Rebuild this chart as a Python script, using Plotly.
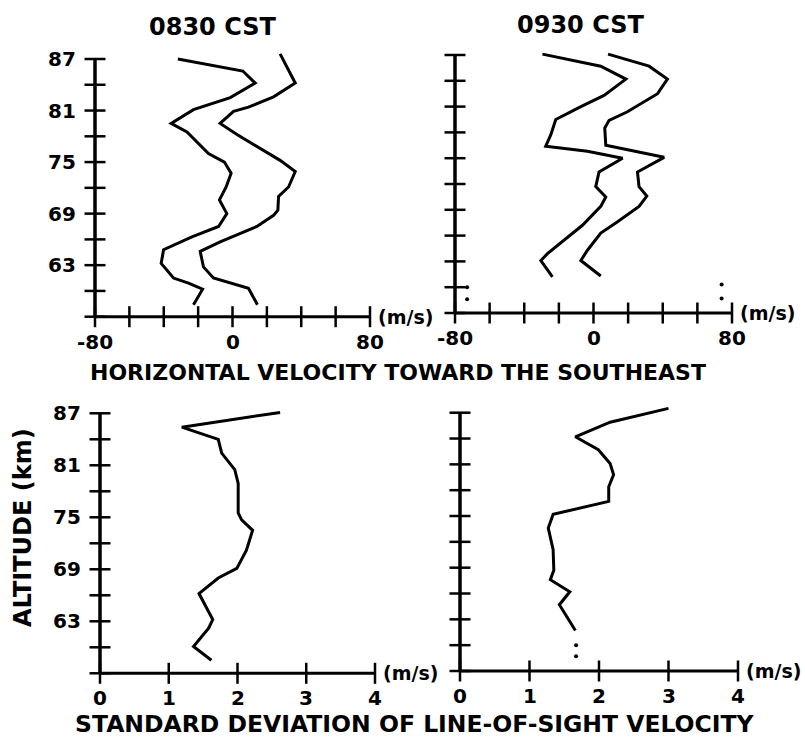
import plotly.graph_objects as go

W, H = 805, 744

# ---------------- data ----------------
# 0830 CST horizontal velocity (two profiles)
alt_h0830_a = [87.0, 85.6, 84.2, 82.5, 81.1, 79.5, 78.5, 76.0, 75.0, 73.7, 72.1, 70.6, 69.0, 67.5, 66.3, 64.8, 63.2, 61.5, 60.9, 60.2, 58.4]
vel_h0830_a = [-31.8, 6.0, 13.2, -1.3, -22.7, -35.7, -26.5, -14.0, -4.7, -0.8, -3.7, -7.6, -3.3, -8.1, -23.6, -40.1, -41.5, -34.3, -25.6, -17.4, -22.7]
alt_h0830_b = [87.6, 84.2, 82.6, 81.4, 80.9, 79.5, 78.2, 76.4, 75.2, 73.9, 72.1, 71.0, 69.4, 68.8, 67.5, 65.7, 64.6, 62.8, 61.5, 60.3, 58.4]
vel_h0830_b = [27.7, 36.5, 23.9, 9.3, 0.6, -7.2, 2.6, 18.0, 27.7, 36.5, 32.6, 26.8, 26.4, 23.9, 14.2, -7.2, -18.8, -16.9, -11.1, 9.3, 14.5]

# 0930 CST horizontal velocity (two profiles)
alt_h0930_a = [87.1, 85.7, 84.2, 82.3, 81.0, 79.5, 77.7, 76.4, 75.8, 75.0, 73.4, 71.7, 70.5, 69.4, 67.2, 65.5, 63.9, 63.1, 61.2]
vel_h0930_a = [-29.5, 4.2, 18.7, 6.1, -7.3, -21.8, -24.7, -27.6, -3.5, 16.8, 3.2, 1.3, 7.1, 4.2, -6.4, -17.0, -26.6, -30.4, -23.7]
alt_h0930_b = [87.1, 85.7, 84.2, 82.5, 80.4, 79.4, 78.5, 76.5, 75.1, 73.4, 71.7, 70.6, 69.4, 67.6, 66.3, 64.3, 63.1, 61.3]
vel_h0930_b = [8.4, 32.1, 42.7, 37.0, 19.6, 9.0, 6.5, 7.1, 40.8, 25.4, 26.3, 30.8, 26.3, 13.9, 4.2, -3.5, -7.3, 4.2]
alt_h0930_dots = [60.0, 58.6, 60.3, 58.7]
vel_h0930_dots = [-73, -73, 74, 74]

# standard deviation of line-of-sight velocity
alt_s0830 = [87.1, 86.0, 85.4, 84.0, 82.4, 80.5, 78.9, 75.5, 74.7, 73.5, 71.2, 69.1, 68.0, 66.2, 63.2, 62.2, 60.1, 58.5]
sd_s0830 = [2.62, 1.70, 1.19, 1.72, 1.77, 1.96, 2.01, 2.01, 2.06, 2.22, 2.13, 1.99, 1.72, 1.44, 1.64, 1.58, 1.36, 1.62]
alt_s0930 = [87.5, 85.9, 84.2, 82.7, 81.1, 79.8, 78.4, 76.7, 75.2, 73.6, 71.1, 68.7, 67.6, 66.2, 64.7, 61.7]
sd_s0930 = [3.0, 2.16, 1.66, 1.99, 2.16, 2.21, 2.14, 2.14, 1.34, 1.27, 1.34, 1.35, 1.30, 1.58, 1.43, 1.66]
alt_s0930_dots = [60.0, 58.7]
sd_s0930_dots = [1.67, 1.67]

# ticks
vel_ticks = [-80, -60, -40, -20, 0, 20, 40, 60, 80]
vel_ticklabels = ["-80", "", "", "", "0", "", "", "", "80"]
sd_ticks = [0, 1, 2, 3, 4]
sd_ticklabels = ["0", "1", "2", "3", "4"]
alt_ticks = [57, 60, 63, 66, 69, 72, 75, 78, 81, 84, 87]
alt_ticklabels = ["", "", "63", "", "69", "", "75", "", "81", "", "87"]

titles = ["0830 CST", "0930 CST"]
xlabel_top = "HORIZONTAL VELOCITY TOWARD THE SOUTHEAST"
xlabel_bot = "STANDARD DEVIATION OF LINE-OF-SIGHT VELOCITY"
ylabel = "ALTITUDE (km)"
unit = "(m/s)"

# ---------------- layout helpers ----------------
FONT = "DejaVu Sans"
BLACK = "#000000"

# panel pixel anchors: x pixels of first/last tick, y pixels of top/bottom tick
panels = [
    dict(xp=(95, 370), yp=(59, 316.7), xt=vel_ticks, xl=vel_ticklabels, ylab=True),
    dict(xp=(455, 732), yp=(55, 313), xt=vel_ticks, xl=vel_ticklabels, ylab=False),
    dict(xp=(100, 375), yp=(413.3, 673.3), xt=sd_ticks, xl=sd_ticklabels, ylab=True),
    dict(xp=(460, 738), yp=(412.7, 671), xt=sd_ticks, xl=sd_ticklabels, ylab=False),
]

series = [
    [(vel_h0830_a, alt_h0830_a), (vel_h0830_b, alt_h0830_b)],
    [(vel_h0930_a, alt_h0930_a), (vel_h0930_b, alt_h0930_b)],
    [(sd_s0830, alt_s0830)],
    [(sd_s0930, alt_s0930)],
]
dots = [None, (vel_h0930_dots, alt_h0930_dots), None, (sd_s0930_dots, alt_s0930_dots)]

fig = go.Figure()
layout = dict(
    width=W, height=H, autosize=False,
    margin=dict(l=0, r=0, t=0, b=0),
    paper_bgcolor="white", plot_bgcolor="rgba(0,0,0,0)",
    showlegend=False,
)
annotations = []

for i, p in enumerate(panels):
    xs = "" if i == 0 else str(i + 1)
    xref, yref = "x" + xs, "y" + xs
    xt = p["xt"]
    x0v, x1v = xt[0], xt[-1]
    y0v, y1v = alt_ticks[0], alt_ticks[-1]
    span = x1v - x0v
    rx = (x0v - 0.06 * span, x1v + 0.06 * span)
    ry = (y0v - 1.5, y1v + 2.0)
    sx = (p["xp"][1] - p["xp"][0]) / span
    sy = (p["yp"][1] - p["yp"][0]) / (y1v - y0v)
    left = p["xp"][0] - (x0v - rx[0]) * sx
    right = p["xp"][1] + (rx[1] - x1v) * sx
    top = p["yp"][0] - (ry[1] - y1v) * sy
    bot = p["yp"][1] + (y0v - ry[0]) * sy
    ax_common = dict(showgrid=False, zeroline=False, showline=False,
                     showticklabels=False, ticks="", fixedrange=True)
    layout["xaxis" + xs] = dict(domain=[left / W, right / W], range=list(rx),
                                anchor=yref, **ax_common)
    layout["yaxis" + xs] = dict(domain=[1 - bot / H, 1 - top / H], range=list(ry),
                                anchor=xref, **ax_common)

    # axis lines
    fig.add_trace(go.Scatter(x=[x0v, x1v], y=[y0v, y0v], mode="lines",
                             line=dict(color=BLACK, width=3), xaxis=xref, yaxis=yref,
                             hoverinfo="skip"))
    fig.add_trace(go.Scatter(x=[x0v, x0v], y=[y0v, y1v], mode="lines",
                             line=dict(color=BLACK, width=3.5), xaxis=xref, yaxis=yref,
                             hoverinfo="skip"))
    # cross ticks
    fig.add_trace(go.Scatter(x=xt, y=[y0v] * len(xt), mode="markers",
                             marker=dict(symbol="line-ns", size=15,
                                         line=dict(color=BLACK, width=2.5)),
                             cliponaxis=False, xaxis=xref, yaxis=yref, hoverinfo="skip"))
    fig.add_trace(go.Scatter(x=[x0v] * len(alt_ticks), y=alt_ticks, mode="markers",
                             marker=dict(symbol="line-ew", size=15,
                                         line=dict(color=BLACK, width=2.5)),
                             cliponaxis=False, xaxis=xref, yaxis=yref, hoverinfo="skip"))
    # data
    for (xv, yv) in series[i]:
        fig.add_trace(go.Scatter(x=xv, y=yv, mode="lines",
                                 line=dict(color=BLACK, width=3), xaxis=xref, yaxis=yref))
    if dots[i] is not None:
        fig.add_trace(go.Scatter(x=dots[i][0], y=dots[i][1], mode="markers",
                                 marker=dict(color=BLACK, size=4), xaxis=xref, yaxis=yref))

    # x tick labels
    for v, t in zip(xt, p["xl"]):
        if t:
            annotations.append(dict(x=v, y=y0v, xref=xref, yref=yref, text=t,
                                    showarrow=False, yshift=-25, xanchor="center",
                                    yanchor="middle",
                                    font=dict(family=FONT, size=20, color=BLACK, weight="bold")))
    # unit label
    annotations.append(dict(x=x1v, y=y0v, xref=xref, yref=yref, text=unit,
                            showarrow=False, xshift=6, xanchor="left", yanchor="middle",
                            font=dict(family=FONT, size=19, color=BLACK, weight="bold")))
    # y tick labels
    if p["ylab"]:
        for v, t in zip(alt_ticks, alt_ticklabels):
            if t:
                annotations.append(dict(x=x0v, y=v, xref=xref, yref=yref, text=t,
                                        showarrow=False, xshift=-17, xanchor="right",
                                        yanchor="middle",
                                        font=dict(family=FONT, size=20, color=BLACK, weight="bold")))

# titles & labels
def lab(x, y, text, size, angle=0):
    annotations.append(dict(x=x / W, y=1 - y / H, xref="paper", yref="paper", text=text,
                            showarrow=False, xanchor="center", yanchor="middle",
                            textangle=angle,
                            font=dict(family=FONT, size=size, color=BLACK, weight="bold")))

lab(212, 27, titles[0], 24)
lab(580, 25, titles[1], 24)
lab(398, 372, xlabel_top, 22)
lab(415, 724, xlabel_bot, 23.5)
lab(23, 528, ylabel, 24, -90)

layout["annotations"] = annotations
fig.update_layout(**layout)
fig.write_html("out.html")
